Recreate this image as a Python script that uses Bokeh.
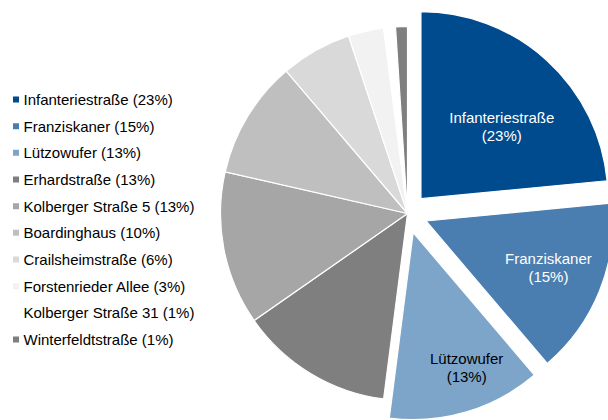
import math
from bokeh.plotting import figure
from bokeh.models import ColumnDataSource
from bokeh.core.properties import value
from bokeh.embed import file_html
from bokeh.resources import INLINE

names = ["Infanteriestraße", "Franziskaner", "Lützowufer", "Erhardstraße",
         "Kolberger Straße 5", "Boardinghaus", "Crailsheimstraße",
         "Forstenrieder Allee", "Kolberger Straße 31", "Winterfeldtstraße"]
shares = [23, 15, 13, 13, 13, 10, 6, 3, 1, 1]
colors = ["#004B8D", "#4A7EB1", "#7DA5CA", "#7F7F7F", "#A6A6A6", "#BFBFBF",
          "#D9D9D9", "#F2F2F2", "#FFFFFF", "#7F7F7F"]
exploded = [True, True, True, False, False, False, False, False, False, False]
slice_names = ["Infanteriestraße", "Franziskaner", "Lützowufer"]
slice_pcts = ["(23%)", "(15%)", "(13%)"]
label_colors = ["#FFFFFF", "#FFFFFF", "#000000"]
label_rfrac = [0.58, 0.70, 0.775]
label_afrac = [0.57, 0.477, 0.393]

W, H = 608, 420
cx, cy = 407, H - 213
R = 187
EXP = 20

p = figure(width=W, height=H, x_range=(0, W), y_range=(0, H),
           output_backend="svg", toolbar_location=None, min_border=0)
p.axis.visible = False
p.grid.visible = False
p.outline_line_color = None
p.background_fill_color = "white"
p.border_fill_color = "white"

total = sum(shares)
xs, ys, starts, ends, mids = [], [], [], [], []
cum = 0.0
for s, ex in zip(shares, exploded):
    a0 = math.pi / 2 - cum / total * 2 * math.pi
    cum += s
    a1 = math.pi / 2 - cum / total * 2 * math.pi
    mid = (a0 + a1) / 2
    d = EXP if ex else 0
    xs.append(cx + d * math.cos(mid))
    ys.append(cy + d * math.sin(mid))
    starts.append(a0)
    ends.append(a1)
    mids.append(mid)

src = ColumnDataSource(dict(x=xs, y=ys, start=starts, end=ends, color=colors))
p.wedge(x="x", y="y", radius=R, start_angle="start", end_angle="end",
        direction="clock", fill_color="color", line_color="white",
        line_width=1.2, source=src)

# slice labels
lx, ly = [], []
for i in range(len(slice_names)):
    ang = starts[i] + label_afrac[i] * (ends[i] - starts[i])
    lx.append(xs[i] + label_rfrac[i] * R * math.cos(ang))
    ly.append(ys[i] + label_rfrac[i] * R * math.sin(ang))
lsrc = ColumnDataSource(dict(x=lx, y=ly, n=slice_names, pc=slice_pcts,
                             c=label_colors))
for col, off in (("n", -9), ("pc", 9)):
    p.text(x="x", y="y", text=col, text_color="c", source=lsrc,
           text_align="center", text_baseline="middle", y_offset=off,
           text_font=value("Liberation Sans"), text_font_size="15px")

# legend
leg_y0 = H - 99
leg_step = 26.67
leg_y = [leg_y0 - i * leg_step for i in range(len(names))]
leg_text = [f"{n} ({s}%)" for n, s in zip(names, shares)]
gsrc = ColumnDataSource(dict(y=leg_y, t=leg_text, c=colors,
                             mx=[15.5] * len(names), tx=[23] * len(names)))
p.rect(x="mx", y="y", width=6, height=6, fill_color="c", line_color=None,
       source=gsrc)
p.text(x="tx", y="y", text="t", source=gsrc, text_color="#000000",
       text_align="left", text_baseline="middle",
       text_font=value("Liberation Sans"), text_font_size="15px")

open("out.html", "w").write(file_html(p, INLINE))
